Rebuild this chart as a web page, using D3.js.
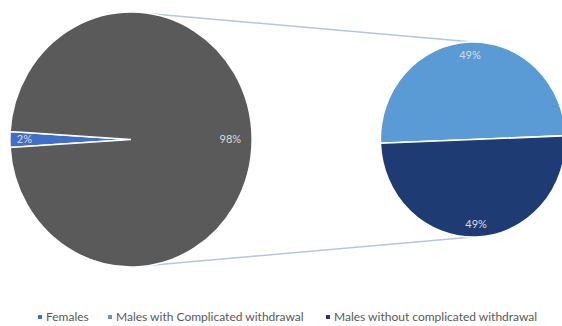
<!DOCTYPE html>
<meta charset="utf-8">
<title>Pie of pie</title>
<style>
  body { margin: 0; background: #fff; }
  text { font-family: Lato, "Liberation Sans", sans-serif; }
</style>
<body>
<script src="https://d3js.org/d3.v7.min.js"></script>
<script>

var width = 562,
    height = 326;

// main pie: females vs. all males (split out into the second pie)
var mainLabels = ["Females", "Males"];
var mainValues = [2, 98];

// second pie: the males, broken down (percent of everyone)
var subLabels = ["Males with Complicated withdrawal", "Males without complicated withdrawal"];
var subValues = [49, 49];

var legendLabels = ["Females", "Males with Complicated withdrawal", "Males without complicated withdrawal"];

var color = d3.scaleOrdinal()
  .domain(legendLabels.concat(["Males"]))
  .range(["#3f6fc6", "#5b9bd5", "#1f3b73", "#5a5a5a"]);

var sx = 0.95; // the picture is a little squeezed sideways

var left = {cx: 131, cy: 139.5, r: 127.5},
    right = {cx: 473, cy: 139.5, r: 97.5};

var svg = d3.select("body").append("svg")
  .attr("width", width)
  .attr("height", height);

// connector lines between the two pies (top and bottom)
svg.append("g")
  .selectAll("line")
  .data([-1, 1])
  .join("line")
  .attr("x1", left.cx)
  .attr("y1", d => left.cy + d * left.r)
  .attr("x2", right.cx)
  .attr("y2", d => right.cy + d * right.r)
  .attr("stroke", "#b3c8da")
  .attr("stroke-width", 1.5);

function drawPie(p, labels, values, startAngle, labelFrac) {
  var pie = d3.pie().sort(null)
    .startAngle(startAngle)
    .endAngle(startAngle + 2 * Math.PI);

  var arcs = pie(values).map((a, i) => Object.assign(a, {label: labels[i]}));

  var arc = d3.arc().innerRadius(0).outerRadius(p.r);

  svg.append("g")
    .attr("transform", "translate(" + p.cx + "," + p.cy + ") scale(" + sx + ",1)")
    .selectAll("path")
    .data(arcs)
    .join("path")
    .attr("d", arc)
    .attr("fill", d => color(d.label))
    .attr("stroke", "#fff")
    .attr("stroke-width", 1.6);

  function labelPos(d) {
    var lr = p.r * labelFrac(d);
    return d3.arc().innerRadius(lr).outerRadius(lr).centroid(d);
  }

  svg.append("g")
    .attr("transform", "translate(" + p.cx + "," + p.cy + ")")
    .selectAll("text")
    .data(arcs)
    .join("text")
    .attr("x", d => labelPos(d)[0] * sx)
    .attr("y", d => labelPos(d)[1])
    .attr("dy", "0.35em")
    .attr("text-anchor", "middle")
    .attr("font-size", 11)
    .attr("fill", "#dcdcdc")
    .text(d => d.value + "%");
}

// females slice centred on the left side of the big pie
var femStart = -Math.PI / 2 - Math.PI * mainValues[0] / d3.sum(mainValues);
drawPie(left, mainLabels, mainValues, femStart, d => d.value < 10 ? 0.88 : 0.82);

// second pie is tilted slightly
drawPie(right, subLabels, subValues, -Math.PI / 2 - 2.2 * Math.PI / 180, d => 0.87);

// legend
var legendX = [40, 110, 328];
var legend = svg.append("g")
  .selectAll("g")
  .data(legendLabels)
  .join("g")
  .attr("transform", (d, i) => "translate(" + legendX[i] + ",317)");

legend.append("rect")
  .attr("x", -2).attr("y", -2)
  .attr("width", 4).attr("height", 4)
  .attr("fill", d => color(d));

legend.append("text")
  .attr("x", 6)
  .attr("dy", "0.35em")
  .attr("font-size", 12)
  .attr("fill", "#595959")
  .text(d => d);

</script>
</body>
